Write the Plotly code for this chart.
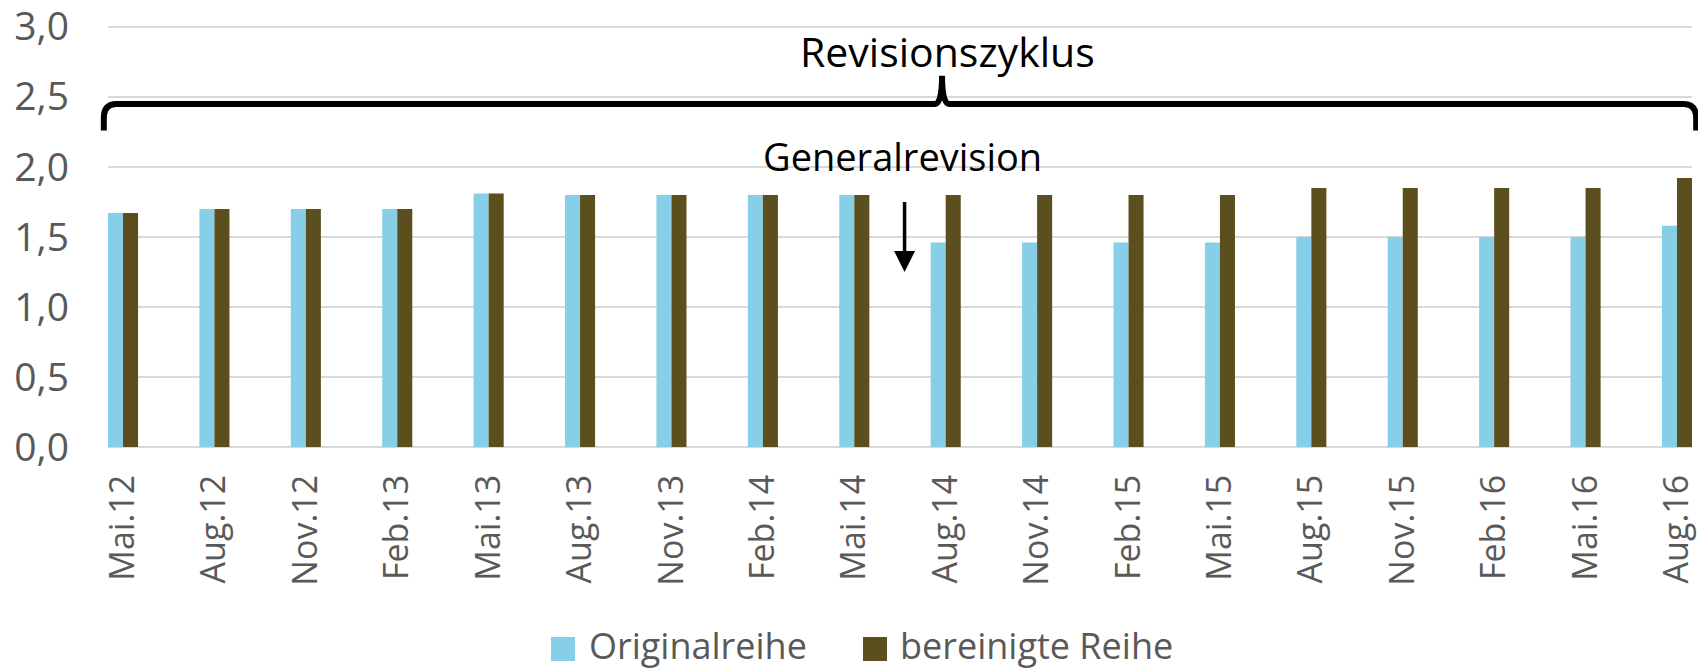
import plotly.graph_objects as go

categories = ["Mai.12", "Aug.12", "Nov.12", "Feb.13", "Mai.13", "Aug.13", "Nov.13", "Feb.14", "Mai.14",
              "Aug.14", "Nov.14", "Feb.15", "Mai.15", "Aug.15", "Nov.15", "Feb.16", "Mai.16", "Aug.16"]
original = [1.67, 1.70, 1.70, 1.70, 1.81, 1.80, 1.80, 1.80, 1.80,
            1.46, 1.46, 1.46, 1.46, 1.50, 1.50, 1.50, 1.50, 1.58]
bereinigt = [1.67, 1.70, 1.70, 1.70, 1.81, 1.80, 1.80, 1.80, 1.80,
             1.80, 1.80, 1.80, 1.80, 1.85, 1.85, 1.85, 1.85, 1.92]
yticks = [0.0, 0.5, 1.0, 1.5, 2.0, 2.5, 3.0]
series_names = ["Originalreihe", "bereinigte Reihe"]

idx = list(range(len(categories)))
XR = [-0.1643, len(categories) - 1 + 0.1643]
YR = [0, 3.02]

BLUE = "#87CEE8"
BROWN = "#5B4F1D"
FONT = "Open Sans"
OFF = 8  # page body margin
W, H = 1706 - OFF, 669 - OFF
ML, MR, MT, MB = 108 - OFF, 14, 24 - OFF, 222
PW, PH = W - ML - MR, H - MT - MB

def xp(v):
    return (v - XR[0]) / (XR[1] - XR[0])

def yp(v):
    return (v - YR[0]) / (YR[1] - YR[0])

def px_x(X):
    return (X - OFF - ML) / PW

def px_y(Y):
    return (H - MB - (Y - OFF)) / PH

fig = go.Figure()
fig.add_trace(go.Bar(x=idx, y=original, name=series_names[0], marker=dict(color=BLUE, line=dict(width=0))))
fig.add_trace(go.Bar(x=idx, y=bereinigt, name=series_names[1], marker=dict(color=BROWN, line=dict(width=0))))

# curly brace (Revisionszyklus)
x0, x1, xm = -0.21, len(categories) - 1 + 0.21, 8.96
ytop, ylow, ypk = 2.448, 2.26, 2.65
dx, dm, dy = 0.14, 0.08, 0.10
path = (f"M {xp(x0)},{yp(ylow)} L {xp(x0)},{yp(ytop - dy)} Q {xp(x0)},{yp(ytop)} {xp(x0 + dx)},{yp(ytop)} "
        f"L {xp(xm - dm)},{yp(ytop)} Q {xp(xm)},{yp(ytop)} {xp(xm)},{yp(ypk)} "
        f"Q {xp(xm)},{yp(ytop)} {xp(xm + dm)},{yp(ytop)} "
        f"L {xp(x1 - dx)},{yp(ytop)} Q {xp(x1)},{yp(ytop)} {xp(x1)},{yp(ytop - dy)} L {xp(x1)},{yp(ylow)}")
fig.add_shape(type="path", path=path, xref="paper", yref="paper",
              line=dict(color="black", width=6), layer="above")

fig.add_annotation(x=9.02, y=2.83, xref="x", yref="y", text="Revisionszyklus", showarrow=False,
                   font=dict(family=FONT, size=41, color="black"))
fig.add_annotation(x=8.53, y=2.08, xref="x", yref="y", text="Generalrevision", showarrow=False,
                   font=dict(family=FONT, size=38, color="black"))
fig.add_annotation(x=8.55, y=1.25, xref="x", yref="y", ax=8.55, ay=1.76, axref="x", ayref="y",
                   text="", showarrow=True, arrowhead=2, arrowsize=1.2, arrowwidth=3.5, arrowcolor="black")

# legend (drawn manually to match square size)
legend_items = [(series_names[0], BLUE, 551, 587), (series_names[1], BROWN, 863, 898)]
for name, col, bx, tx in legend_items:
    fig.add_shape(type="rect", xref="paper", yref="paper",
                  x0=px_x(bx), x1=px_x(bx + 24), y0=px_y(661), y1=px_y(637),
                  fillcolor=col, line=dict(width=0))
    fig.add_annotation(x=px_x(tx), y=px_y(645), xref="paper", yref="paper", text=name,
                       showarrow=False, xanchor="left", yanchor="middle",
                       font=dict(family=FONT, size=36, color="#595959"))

fig.update_layout(
    width=W, height=H,
    margin=dict(l=ML, r=MR, t=MT, b=MB, pad=0, autoexpand=False),
    paper_bgcolor="white", plot_bgcolor="white",
    barmode="group", bargap=0.671, bargroupgap=0,
    separators=", ",
    font=dict(family=FONT, color="#595959", size=36),
    showlegend=False,
    xaxis=dict(range=XR, tickmode="array", tickvals=idx, ticktext=categories, tickangle=-90,
               showgrid=False, zeroline=False, showline=False, ticks="",
               ticklabelstandoff=20, automargin=False, ticklabeloverflow="allow",
               tickfont=dict(family=FONT, size=34, color="#595959")),
    yaxis=dict(range=YR, tickmode="array", tickvals=yticks, tickformat=".1f",
               showgrid=True, gridcolor="#D9D9D9", gridwidth=2,
               zeroline=True, zerolinecolor="#D9D9D9", zerolinewidth=2,
               showline=False, ticks="", ticklabelstandoff=38, automargin=False,
               ticklabeloverflow="allow",
               tickfont=dict(family=FONT, size=39, color="#595959")),
)

fig.write_html("out.html")
